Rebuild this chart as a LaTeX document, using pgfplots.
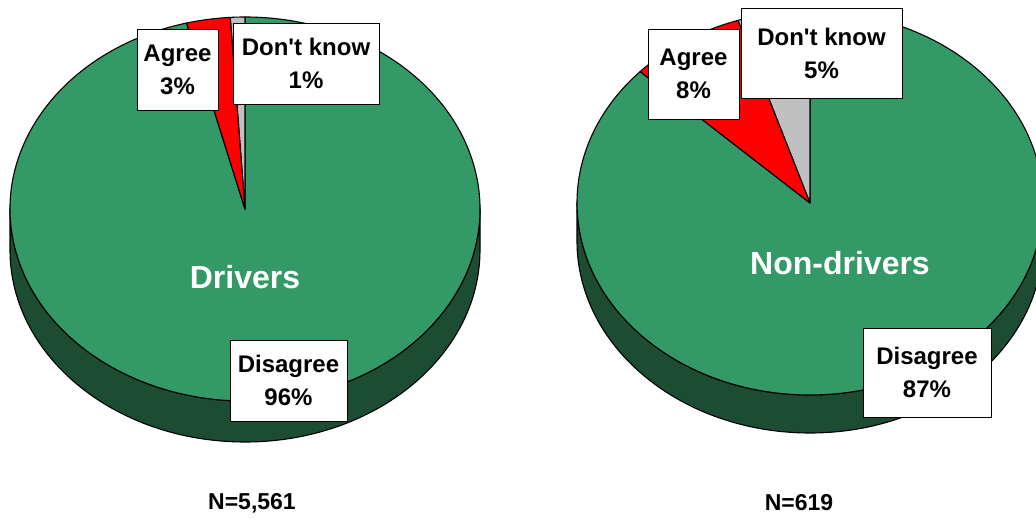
\documentclass[border=0pt]{standalone}
\usepackage{pgfplots}
\pgfplotsset{compat=1.18}
\usepackage{fontspec}
\setmainfont{Liberation Sans}

\definecolor{disgreen}{RGB}{51,153,102}
\definecolor{sidegreen}{RGB}{28,77,51}
\definecolor{agreered}{RGB}{255,0,0}
\definecolor{dkgrey}{RGB}{192,192,192}

\tikzset{
  lbl/.style={draw=black, fill=white, line width=0.9bp, align=center,
    inner sep=1bp, font=\fontsize{24bp}{33bp}\selectfont\bfseries},
}

% #1 cx, #2 cy, #3 x radius, #4 y radius, #5 depth, #6 agree %, #7 don't know %
\newcommand\drawpie[7]{%
  \pgfplotsextra{%
    \pgfmathsetmacro\aA{90+3.6*#7}%
    \pgfmathsetmacro\aB{\aA+3.6*#6}%
    \pgfmathsetmacro\xl{#1-#3}%
    \pgfmathsetmacro\xr{#1+#3}%
    \pgfmathsetmacro\yb{#2-#5}%
    \pgfmathsetmacro\yt{#2+#4}%
    \pgfmathsetmacro\pxA{#1+#3*cos(\aA)}%
    \pgfmathsetmacro\pyA{#2+#4*sin(\aA)}%
    \pgfmathsetmacro\pxB{#1+#3*cos(\aB)}%
    \pgfmathsetmacro\pyB{#2+#4*sin(\aB)}%
    \begin{scope}[draw=black, line width=1.1bp, line join=round]
      % side of the disc
      \filldraw[fill=sidegreen] (axis cs:\xl,#2)
        arc[start angle=180, end angle=360, x radius=#3, y radius=#4]
        -- (axis cs:\xr,\yb)
        arc[start angle=0, end angle=-180, x radius=#3, y radius=#4] -- cycle;
      % disagree
      \filldraw[fill=disgreen] (axis cs:#1,#2) -- (axis cs:\pxB,\pyB)
        arc[start angle=\aB, end angle=450, x radius=#3, y radius=#4] -- cycle;
      % don't know
      \filldraw[fill=dkgrey] (axis cs:#1,#2) -- (axis cs:#1,\yt)
        arc[start angle=90, end angle=\aA, x radius=#3, y radius=#4] -- cycle;
      % agree
      \filldraw[fill=agreered] (axis cs:#1,#2) -- (axis cs:\pxA,\pyA)
        arc[start angle=\aA, end angle=\aB, x radius=#3, y radius=#4] -- cycle;
    \end{scope}
  }%
}

\begin{document}
\begin{tikzpicture}
\useasboundingbox (0,0) rectangle (1036bp,519bp);
\begin{axis}[
    at={(0,0)}, anchor=origin,
    width=1036bp, height=519bp, scale only axis,
    xmin=0, xmax=1036, ymin=0, ymax=519,
    hide axis, clip=true,
  ]

  % Drivers: disagree 96, agree 3, don't know 1
  \drawpie{245}{310}{235}{192}{41}{3}{1}
  % Non-drivers: disagree 87, agree 8, don't know 5
  \drawpie{810}{316}{233}{192}{38}{8}{5}

  \node[font=\fontsize{32bp}{38bp}\selectfont\bfseries, text=white] at (axis cs:245,242) {Drivers};
  \node[font=\fontsize{32bp}{38bp}\selectfont\bfseries, text=white] at (axis cs:840,256) {Non-drivers};

  \node[lbl, minimum width=81bp, minimum height=81bp] at (axis cs:177.5,449.5) {Agree\\3\%};
  \node[lbl, minimum width=146bp, minimum height=81bp] at (axis cs:306,455.5) {Don\textquotesingle t know\\1\%};
  \node[lbl, minimum width=117bp, minimum height=81bp] at (axis cs:288.5,138.5) {Disagree\\96\%};

  \node[lbl, minimum width=91bp, minimum height=90bp] at (axis cs:693.5,445) {Agree\\8\%};
  \node[lbl, minimum width=161bp, minimum height=90bp] at (axis cs:821.5,466) {Don\textquotesingle t know\\5\%};
  \node[lbl, minimum width=128bp, minimum height=89bp] at (axis cs:927,146.5) {Disagree\\87\%};

  \node[font=\fontsize{23bp}{28bp}\selectfont\bfseries] at (axis cs:252,16) {N=5,561};
  \node[font=\fontsize{23bp}{28bp}\selectfont\bfseries] at (axis cs:799,16) {N=619};
\end{axis}
\end{tikzpicture}
\end{document}
